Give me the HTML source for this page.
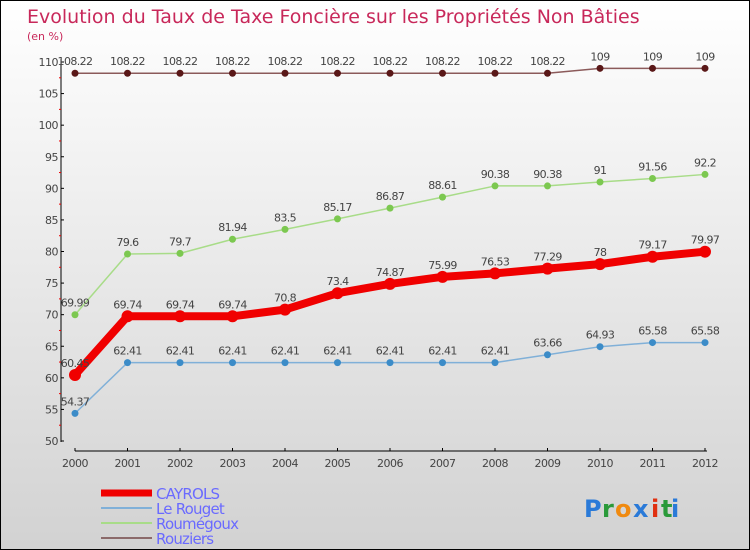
<!DOCTYPE html>
<html><head><meta charset="utf-8">
<style>
body{margin:0}
#c{width:748px;height:548px;border:1px solid #000;background:linear-gradient(#ffffff,#d2d2d2);position:relative;overflow:hidden;font-family:"DejaVu Sans","Liberation Sans",sans-serif}
</style></head><body>
<div id="c">
<svg id="s" width="748" height="548"></svg>
</div>
<script>
const years=[2000,2001,2002,2003,2004,2005,2006,2007,2008,2009,2010,2011,2012];
const yTicks=[50,55,60,65,70,75,80,85,90,95,100,105,110];
const cayrols=[60.45,69.74,69.74,69.74,70.8,73.4,74.87,75.99,76.53,77.29,78,79.17,79.97];
const rouget=[54.37,62.41,62.41,62.41,62.41,62.41,62.41,62.41,62.41,63.66,64.93,65.58,65.58];
const roumegoux=[69.99,79.6,79.7,81.94,83.5,85.17,86.87,88.61,90.38,90.38,91,91.56,92.2];
const rouziers=[108.22,108.22,108.22,108.22,108.22,108.22,108.22,108.22,108.22,108.22,109,109,109];
const labels={cayrols:["60.45","69.74","69.74","69.74","70.8","73.4","74.87","75.99","76.53","77.29","78","79.17","79.97"],
rouget:["54.37","62.41","62.41","62.41","62.41","62.41","62.41","62.41","62.41","63.66","64.93","65.58","65.58"],
roumegoux:["69.99","79.6","79.7","81.94","83.5","85.17","86.87","88.61","90.38","90.38","91","91.56","92.2"],
rouziers:["108.22","108.22","108.22","108.22","108.22","108.22","108.22","108.22","108.22","108.22","109","109","109"]};
const NS="http://www.w3.org/2000/svg";
const s=document.getElementById('s');
function X(i){return 74+i*52.5;}
function Y(v){return 440-(v-50)*(379/60);}
function el(t,a,txt){const e=document.createElementNS(NS,t);for(const k in a)e.setAttribute(k,a[k]);if(txt!==undefined)e.textContent=txt;s.appendChild(e);return e;}
let e;
e=el('text',{x:26,y:22,'font-size':19,fill:'#c8285a','font-family':'DejaVu Sans,sans-serif'},'Evolution du Taux de Taxe Foncière sur les Propriétés Non Bâties');

e=el('text',{x:26,y:39,'font-size':11,fill:'#c8285a'},'(en %)');

// axes
e=el('line',{x1:60,y1:58,x2:60,y2:441,stroke:'#000','stroke-width':1});

e=el('line',{x1:74,y1:450,x2:706,y2:450,stroke:'#000','stroke-width':1});

yTicks.forEach((v,i)=>{
 el('line',{x1:60,y1:Y(v),x2:63,y2:Y(v),stroke:'#000'});
 if(i<yTicks.length-1){e=el('line',{x1:58,y1:Y(v+2.5),x2:60,y2:Y(v+2.5),stroke:'#e00'});}
 e=el('text',{x:57,y:Y(v)+4,'font-size':11,fill:'#444','text-anchor':'end','letter-spacing':'-0.5'},String(v));
 
});
years.forEach((y,i)=>{
 el('line',{x1:X(i),y1:447,x2:X(i),y2:450,stroke:'#000'});
 e=el('text',{x:X(i),y:466,'font-size':11,fill:'#444','text-anchor':'middle','letter-spacing':'-0.5'},String(y));
 
});
function series(name,data,lab,color,dot,lw,r){
 const pts=data.map((v,i)=>X(i)+','+Y(v)).join(' ');
 e=el('polyline',{points:pts,fill:'none',stroke:color,'stroke-width':lw,'stroke-linejoin':'round'});
 
 data.forEach((v,i)=>{
  e=el('circle',{cx:X(i),cy:Y(v),r:r,fill:dot});
  
  e=el('text',{x:X(i),y:Y(v)-8,'font-size':11,fill:'#444','text-anchor':'middle','letter-spacing':'-0.6'},lab[i]);
  
 });
}
series('rouziers',rouziers,labels.rouziers,'#8b5a5a','#5a1818',1.5,3.5);
series('roumegoux',roumegoux,labels.roumegoux,'#a8dc88','#7cc850',1.5,3.5);
series('le-rouget',rouget,labels.rouget,'#80b0d8','#3c8cc8',1.5,3.5);
series('cayrols',cayrols,labels.cayrols,'#f00000','#f00000',8,6);
// legend
const leg=[['CAYROLS','#f00000',7],['Le Rouget','#80b0d8',2],['Roumégoux','#a8dc88',2],['Rouziers','#8b6a6a',2]];
leg.forEach((l,i)=>{
 const y=492+i*15;
 e=el('line',{x1:100,y1:y,x2:151,y2:y,stroke:l[1],'stroke-width':l[2]});
 
 e=el('text',{x:155,y:y+6,'font-size':15,fill:'#6a6aff','letter-spacing':'-0.8'},l[0]);
 
});
// logo
const logo=[['P','#2a7ad8'],['r','#2a9a3a'],['o','#f08a10'],['x','#2a7ad8'],['i','#e03010'],['t','#2a9a3a'],['i','#2a7ad8']];
let lx=583;
logo.forEach(c=>{e=el('text',{x:lx,y:516,'font-size':24,'font-weight':'bold',fill:c[1]},c[0]);
 
 lx+= c[0]==='i'||c[0]==='t'?10:(c[0]==='r'?13:18);});
</script>
</body></html>
